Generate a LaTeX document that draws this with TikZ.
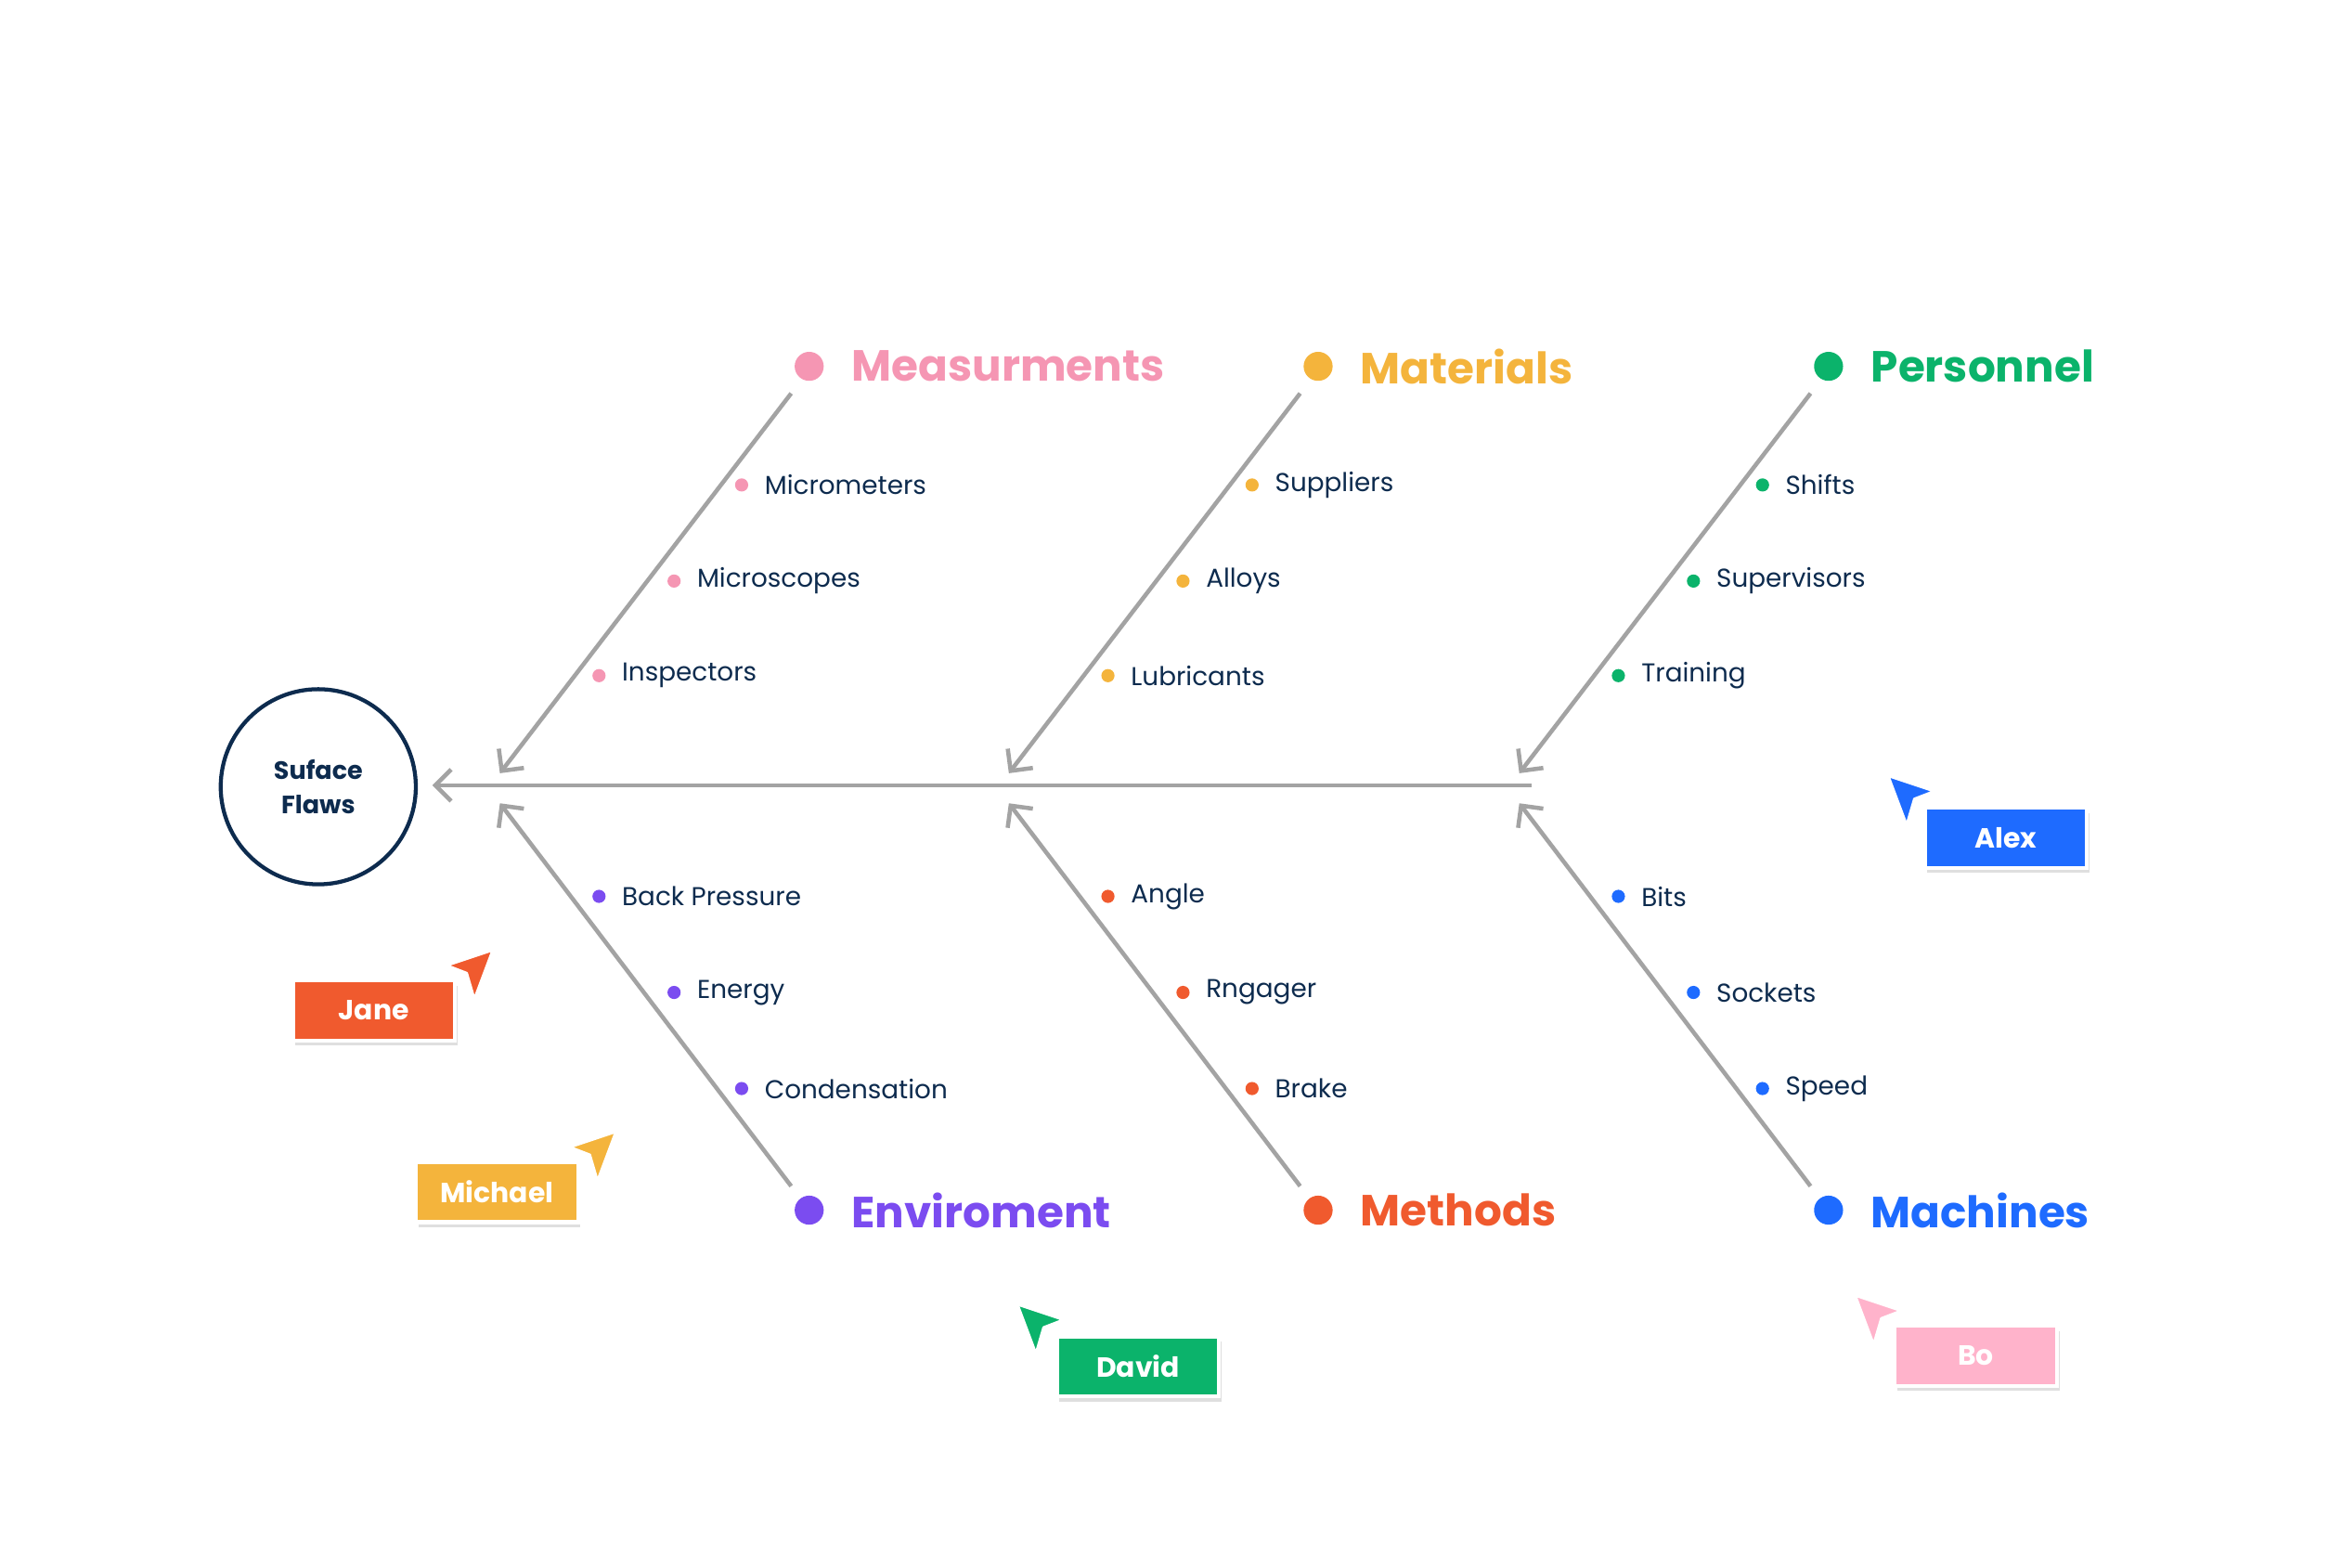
\documentclass[tikz,border=0pt]{standalone}
\usepackage{fontspec}
\setmainfont{Poppins}
\usetikzlibrary{%
	positioning,
	arrows.meta,
	shadows
}
\definecolor{navy}{HTML}{0D2B4E}
\definecolor{bone}{HTML}{A3A3A3}
\definecolor{cMeas}{HTML}{F596B3}
\definecolor{cMat}{HTML}{F4B43C}
\definecolor{cPers}{HTML}{0BB36B}
\definecolor{cEnv}{HTML}{7B4CF0}
\definecolor{cMeth}{HTML}{F05A2E}
\definecolor{cMach}{HTML}{1E6BFF}
\definecolor{cBo}{HTML}{FFB3CB}
\newcommand{\cursor}[4]{% x, y, xscale, colour
	\path[fill=#4,draw=white,line width=0.8pt,line join=round,shift={(#1,#2)},xscale=#3] (0,0) -- (30,10) -- (17,15) -- (12,32) -- cycle;}
\begin{document}
\begin{tikzpicture}[x=0.02cm,y=-0.02cm,
		bone/.style={draw=bone,line width=1.6pt,-{Straight Barb[length=6pt,width=12pt]}},
		catdot/.style={circle,inner sep=0pt,minimum size=11pt},
		catlabel/.style={anchor=west,font=\fontsize{16.5}{20}\selectfont\bfseries,inner sep=0pt},
		itemdot/.style={circle,inner sep=0pt,minimum size=5pt},
		item/.style={anchor=west,font=\fontsize{9.8}{12}\selectfont\color{navy},inner sep=0pt},
		tag/.style={minimum width=2.16cm,minimum height=0.8cm,inner sep=0pt,draw=white,line width=1.5pt,
			font=\fontsize{10.5}{13}\selectfont\bfseries\color{white},drop shadow={opacity=0.25,shadow xshift=1pt,shadow yshift=-2pt}}
	]
	\useasboundingbox (0,0) rectangle (1560,1044);
	
	% head
	\node (head) [circle,draw=navy,line width=1.5pt,minimum size=2.6cm,align=center,
		font=\fontsize{9.5}{13}\selectfont\bfseries\color{navy}] at (212,524) {Suface\\Flaws};
	\coordinate (spineEnd) at (1020,523);
	\coordinate (spineTip) at (288,523);
	\draw[bone] (spineEnd) -- (spineTip);
	
	% bones
	\foreach \x/\nm/\col/\lbl in {0/meas/cMeas/Measurments,339/mat/cMat/Materials,679/pers/cPers/Personnel}{
		\node (\nm-dot) [catdot,fill=\col] at (539+\x,244) {};
		\node (\nm) [catlabel,text=\col] at (567+\x,244) {\lbl};
		\coordinate (\nm-start) at (527+\x,262);
		\coordinate (\nm-end) at (333+\x,515);
		\draw[bone] (\nm-start) -- (\nm-end);
	}
	\foreach \x/\nm/\col/\lbl in {0/env/cEnv/Enviroment,339/meth/cMeth/Methods,679/mach/cMach/Machines}{
		\node (\nm-dot) [catdot,fill=\col] at (539+\x,806) {};
		\node (\nm) [catlabel,text=\col] at (567+\x,806) {\lbl};
		\coordinate (\nm-start) at (527+\x,790);
		\coordinate (\nm-end) at (333+\x,535);
		\draw[bone] (\nm-start) -- (\nm-end);
	}
	
	% causes
	\foreach \x/\y/\col/\txt/\nm in {
		494/323/cMeas/Micrometers/i1, 449/387/cMeas/Microscopes/i2, 399/450/cMeas/Inspectors/i3,
		834/323/cMat/Suppliers/i4, 788/387/cMat/Alloys/i5, 738/450/cMat/Lubricants/i6,
		1174/323/cPers/Shifts/i7, 1128/387/cPers/Supervisors/i8, 1078/450/cPers/Training/i9,
		399/597/cEnv/Back Pressure/i10, 449/661/cEnv/Energy/i11, 494/725/cEnv/Condensation/i12,
		738/597/cMeth/Angle/i13, 788/661/cMeth/Rngager/i14, 834/725/cMeth/Brake/i15,
		1078/597/cMach/Bits/i16, 1128/661/cMach/Sockets/i17, 1174/725/cMach/Speed/i18}{
		\node (\nm-dot) [itemdot,fill=\col] at (\x,\y) {};
		\node (\nm) [item] at (\x+15,\y) {\txt};
	}
	
	% collaborators
	\node (alex) [tag,fill=cMach] at (1336,558) {Alex};
	\cursor{1258}{517}{1}{cMach}
	\node (jane) [tag,fill=cMeth] at (249,673) {Jane};
	\cursor{328}{633}{-1}{cMeth}
	\node (michael) [tag,fill=cMat] at (331,794) {Michael};
	\cursor{410}{754}{-1}{cMat}
	\node (david) [tag,fill=cPers] at (758,910) {David};
	\cursor{678}{869}{1}{cPers}
	\node (bo) [tag,fill=cBo] at (1316,903) {Bo};
	\cursor{1236}{863}{1}{cBo}
\end{tikzpicture}
\end{document}
